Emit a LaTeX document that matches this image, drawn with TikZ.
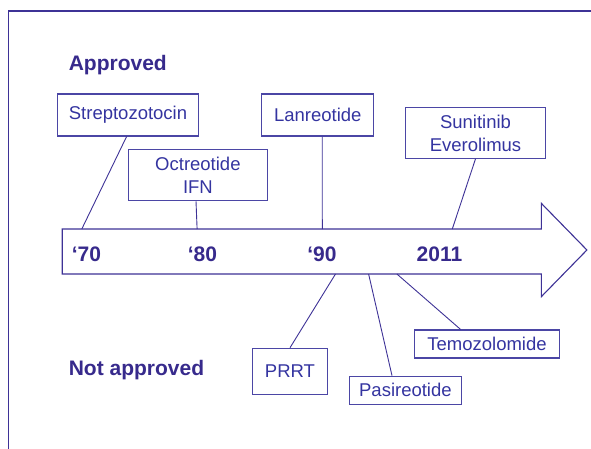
\documentclass[tikz,border=0pt]{standalone}
\usepackage{fontspec}
\setmainfont{Liberation Sans}
\definecolor{lineblue}{RGB}{62,50,150}
\definecolor{boxblue}{RGB}{75,70,165}
\definecolor{txtblue}{RGB}{52,52,160}
\definecolor{boldblue}{RGB}{55,42,140}
\tikzset{
  drugbox/.style={draw=boxblue, line width=1.1pt, inner sep=0pt, align=center,
    text=txtblue, font=\fontsize{18.5}{23}\selectfont},
  era/.style={anchor=base west, inner sep=0pt, text=boldblue,
    font=\fontsize{21}{24}\selectfont\bfseries},
  conn/.style={draw=lineblue, line width=0.9pt}
}
\begin{document}
\begin{tikzpicture}[x=1pt,y=-1pt]
\useasboundingbox (0,0) rectangle (591,449);
% frame
\draw[lineblue, line width=1.2pt] (8.3,449) -- (8.3,11) -- (591,11);
% arrow
\draw[lineblue, line width=1.1pt, fill=white, line join=miter]
  (62.2,229) -- (541.3,229) -- (541.3,203.3) -- (586.9,250) -- (541.3,296.7)
  -- (541.3,274) -- (62.2,274) -- cycle;
% points on arrow
\coordinate (p70) at (81.8,229);
\coordinate (p80) at (197.1,229);
\coordinate (p90) at (322.3,229);
\coordinate (p11) at (452.3,229);
\coordinate (qprrt) at (335.5,274);
\coordinate (qpas) at (368.6,274);
\coordinate (qtem) at (396.9,274);
% headings
\node[era] (appr) at (68.6,71) {Approved};
\node[era] (notappr) at (68.6,375) {Not approved};
% year labels
\node[era] (y70) at (71.6,261) {‘70};
\node[era] (y80) at (187.7,261) {‘80};
\node[era] (y90) at (307.2,261) {‘90};
\node[era] (y11) at (416.5,261) {2011};
% approved boxes
\node[drugbox, minimum width=140.6pt, minimum height=42pt] (strep) at (128,115) {Streptozotocin};
\node[drugbox, minimum width=112.3pt, minimum height=42pt] (lan) at (317.75,115) {Lanreotide};
\node[drugbox, minimum width=139.8pt, minimum height=50.6pt] (sun) at (475.5,133) {Sunitinib\\Everolimus};
\node[drugbox, minimum width=139.4pt, minimum height=51pt] (oct) at (197.9,175.2) {Octreotide\\IFN};
% not approved boxes
\node[drugbox, minimum width=75pt, minimum height=46pt] (prrt) at (290,371.3) {PRRT};
\node[drugbox, minimum width=112pt, minimum height=28pt] (pas) at (405.4,390.2) {Pasireotide};
\node[drugbox, minimum width=144.8pt, minimum height=28pt] (tem) at (487,344) {Temozolomide};
% connectors
\draw[conn] ([xshift=-1.4pt]strep.south) -- (p70);
\draw[conn] ([xshift=-1.9pt]oct.south) -- (p80);
\draw[conn] ([xshift=4.5pt]lan.south) -- (p90);
\draw[conn] (sun.south) -- (p11);
\draw[conn] (prrt.north) -- (qprrt);
\draw[conn] ([xshift=-13.4pt]pas.north) -- (qpas);
\draw[conn] ([xshift=-26.4pt]tem.north) -- (qtem);
\end{tikzpicture}
\end{document}
